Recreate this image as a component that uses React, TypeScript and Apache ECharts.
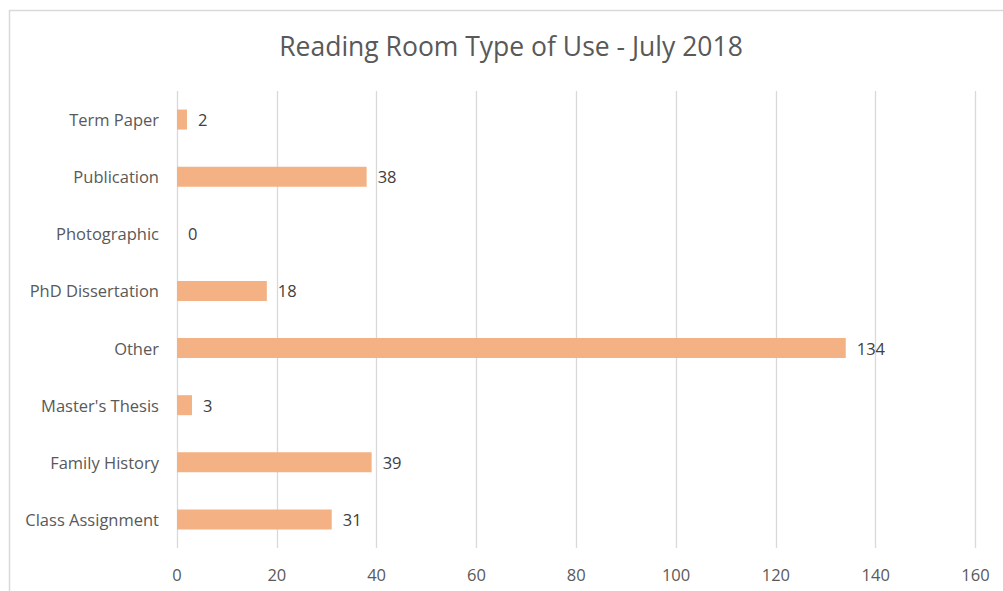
import React, { useEffect, useRef } from "react";
import * as echarts from "echarts";

const categories = [
  "Class Assignment",
  "Family History",
  "Master's Thesis",
  "Other",
  "PhD Dissertation",
  "Photographic",
  "Publication",
  "Term Paper",
];
const values = [31, 39, 3, 134, 18, 0, 38, 2];
const titleText = "Reading Room Type of Use - July 2018";

const FONT = "'Open Sans', Lato, sans-serif";

export default function App() {
  const ref = useRef<HTMLDivElement>(null);
  useEffect(() => {
    if (!ref.current) return;
    const chart = echarts.init(ref.current, undefined, { renderer: "svg" });
    chart.setOption({
      animation: false,
      backgroundColor: "#ffffff",
      title: {
        text: titleText,
        left: 511,
        top: 32,
        padding: 0,
        textAlign: "center",
        textStyle: {
          fontFamily: FONT,
          fontSize: 26.5,
          fontWeight: "normal",
          color: "#595959",
        },
      },
      graphic: [
        {
          type: "rect",
          shape: { x: 9.5, y: 10.5, width: 1100, height: 700 },
          style: { fill: "none", stroke: "#D9D9D9", lineWidth: 1.5 },
          silent: true,
          z: -1,
        },
      ],
      grid: { left: 177, right: 27.5, top: 91, bottom: 43 },
      xAxis: {
        type: "value",
        min: 0,
        max: 160,
        interval: 20,
        axisLine: { show: false },
        axisTick: { show: false },
        axisLabel: {
          fontFamily: FONT,
          fontSize: 16.5,
          color: "#595959",
          margin: 18,
        },
        splitLine: { show: true, lineStyle: { color: "#D9D9D9", width: 1.3 } },
      },
      yAxis: {
        type: "category",
        data: categories,
        axisLine: { show: false },
        axisTick: { show: false },
        axisLabel: {
          fontFamily: FONT,
          fontSize: 16.5,
          color: "#595959",
          margin: 18,
        },
        splitLine: { show: false },
      },
      series: [
        {
          type: "bar",
          data: values,
          barCategoryGap: "65%",
          itemStyle: { color: "#F4B183" },
          label: {
            show: true,
            position: "right",
            distance: 11,
            fontFamily: FONT,
            fontSize: 16.5,
            color: "#404040",
          },
        },
      ],
    });
    return () => chart.dispose();
  }, []);
  return (
    <div
      ref={ref}
      style={{ position: "absolute", left: 0, top: 0, width: 1003, height: 591 }}
    />
  );
}
